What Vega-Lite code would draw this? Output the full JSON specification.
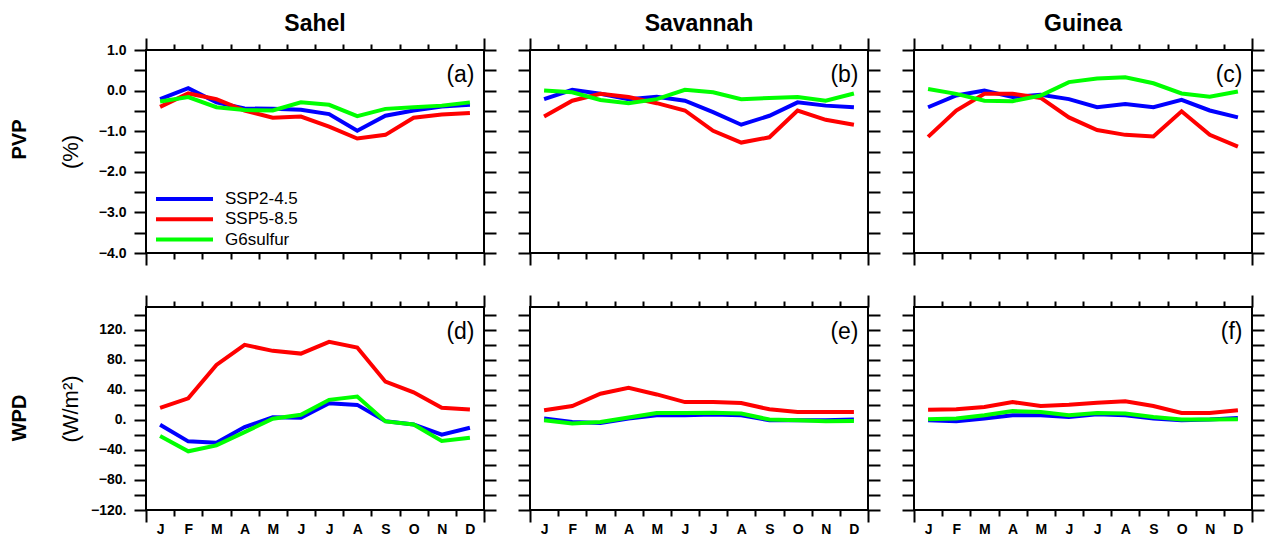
{
"$schema":"https://vega.github.io/schema/vega-lite/v6.json",
"background":"white",
"padding":{"left":10,"top":12,"right":0,"bottom":0},
"spacing":26,
"datasets":{
"a":[
{"month":1,"scenario":"SSP2-4.5","value":-0.21},{"month":2,"scenario":"SSP2-4.5","value":0.06},{"month":3,"scenario":"SSP2-4.5","value":-0.29},{"month":4,"scenario":"SSP2-4.5","value":-0.44},{"month":5,"scenario":"SSP2-4.5","value":-0.45},{"month":6,"scenario":"SSP2-4.5","value":-0.47},{"month":7,"scenario":"SSP2-4.5","value":-0.58},{"month":8,"scenario":"SSP2-4.5","value":-0.99},{"month":9,"scenario":"SSP2-4.5","value":-0.62},{"month":10,"scenario":"SSP2-4.5","value":-0.49},{"month":11,"scenario":"SSP2-4.5","value":-0.39},{"month":12,"scenario":"SSP2-4.5","value":-0.35},
{"month":1,"scenario":"SSP5-8.5","value":-0.4},{"month":2,"scenario":"SSP5-8.5","value":-0.07},{"month":3,"scenario":"SSP5-8.5","value":-0.21},{"month":4,"scenario":"SSP5-8.5","value":-0.49},{"month":5,"scenario":"SSP5-8.5","value":-0.67},{"month":6,"scenario":"SSP5-8.5","value":-0.64},{"month":7,"scenario":"SSP5-8.5","value":-0.89},{"month":8,"scenario":"SSP5-8.5","value":-1.18},{"month":9,"scenario":"SSP5-8.5","value":-1.09},{"month":10,"scenario":"SSP5-8.5","value":-0.67},{"month":11,"scenario":"SSP5-8.5","value":-0.59},{"month":12,"scenario":"SSP5-8.5","value":-0.55},
{"month":1,"scenario":"G6sulfur","value":-0.27},{"month":2,"scenario":"G6sulfur","value":-0.16},{"month":3,"scenario":"G6sulfur","value":-0.41},{"month":4,"scenario":"G6sulfur","value":-0.48},{"month":5,"scenario":"G6sulfur","value":-0.49},{"month":6,"scenario":"G6sulfur","value":-0.29},{"month":7,"scenario":"G6sulfur","value":-0.35},{"month":8,"scenario":"G6sulfur","value":-0.63},{"month":9,"scenario":"G6sulfur","value":-0.45},{"month":10,"scenario":"G6sulfur","value":-0.41},{"month":11,"scenario":"G6sulfur","value":-0.37},{"month":12,"scenario":"G6sulfur","value":-0.29}
],
"b":[
{"month":1,"scenario":"SSP2-4.5","value":-0.21},{"month":2,"scenario":"SSP2-4.5","value":0.02},{"month":3,"scenario":"SSP2-4.5","value":-0.08},{"month":4,"scenario":"SSP2-4.5","value":-0.21},{"month":5,"scenario":"SSP2-4.5","value":-0.15},{"month":6,"scenario":"SSP2-4.5","value":-0.25},{"month":7,"scenario":"SSP2-4.5","value":-0.53},{"month":8,"scenario":"SSP2-4.5","value":-0.84},{"month":9,"scenario":"SSP2-4.5","value":-0.62},{"month":10,"scenario":"SSP2-4.5","value":-0.29},{"month":11,"scenario":"SSP2-4.5","value":-0.37},{"month":12,"scenario":"SSP2-4.5","value":-0.41},
{"month":1,"scenario":"SSP5-8.5","value":-0.64},{"month":2,"scenario":"SSP5-8.5","value":-0.25},{"month":3,"scenario":"SSP5-8.5","value":-0.08},{"month":4,"scenario":"SSP5-8.5","value":-0.16},{"month":5,"scenario":"SSP5-8.5","value":-0.31},{"month":6,"scenario":"SSP5-8.5","value":-0.49},{"month":7,"scenario":"SSP5-8.5","value":-0.99},{"month":8,"scenario":"SSP5-8.5","value":-1.28},{"month":9,"scenario":"SSP5-8.5","value":-1.15},{"month":10,"scenario":"SSP5-8.5","value":-0.49},{"month":11,"scenario":"SSP5-8.5","value":-0.72},{"month":12,"scenario":"SSP5-8.5","value":-0.84},
{"month":1,"scenario":"G6sulfur","value":0.0},{"month":2,"scenario":"G6sulfur","value":-0.04},{"month":3,"scenario":"G6sulfur","value":-0.23},{"month":4,"scenario":"G6sulfur","value":-0.31},{"month":5,"scenario":"G6sulfur","value":-0.21},{"month":6,"scenario":"G6sulfur","value":0.02},{"month":7,"scenario":"G6sulfur","value":-0.04},{"month":8,"scenario":"G6sulfur","value":-0.21},{"month":9,"scenario":"G6sulfur","value":-0.18},{"month":10,"scenario":"G6sulfur","value":-0.16},{"month":11,"scenario":"G6sulfur","value":-0.25},{"month":12,"scenario":"G6sulfur","value":-0.07}
],
"c":[
{"month":1,"scenario":"SSP2-4.5","value":-0.41},{"month":2,"scenario":"SSP2-4.5","value":-0.12},{"month":3,"scenario":"SSP2-4.5","value":0.0},{"month":4,"scenario":"SSP2-4.5","value":-0.16},{"month":5,"scenario":"SSP2-4.5","value":-0.1},{"month":6,"scenario":"SSP2-4.5","value":-0.21},{"month":7,"scenario":"SSP2-4.5","value":-0.41},{"month":8,"scenario":"SSP2-4.5","value":-0.33},{"month":9,"scenario":"SSP2-4.5","value":-0.41},{"month":10,"scenario":"SSP2-4.5","value":-0.23},{"month":11,"scenario":"SSP2-4.5","value":-0.49},{"month":12,"scenario":"SSP2-4.5","value":-0.66},
{"month":1,"scenario":"SSP5-8.5","value":-1.14},{"month":2,"scenario":"SSP5-8.5","value":-0.49},{"month":3,"scenario":"SSP5-8.5","value":-0.08},{"month":4,"scenario":"SSP5-8.5","value":-0.08},{"month":5,"scenario":"SSP5-8.5","value":-0.18},{"month":6,"scenario":"SSP5-8.5","value":-0.66},{"month":7,"scenario":"SSP5-8.5","value":-0.97},{"month":8,"scenario":"SSP5-8.5","value":-1.09},{"month":9,"scenario":"SSP5-8.5","value":-1.13},{"month":10,"scenario":"SSP5-8.5","value":-0.51},{"month":11,"scenario":"SSP5-8.5","value":-1.09},{"month":12,"scenario":"SSP5-8.5","value":-1.38},
{"month":1,"scenario":"G6sulfur","value":0.04},{"month":2,"scenario":"G6sulfur","value":-0.08},{"month":3,"scenario":"G6sulfur","value":-0.25},{"month":4,"scenario":"G6sulfur","value":-0.26},{"month":5,"scenario":"G6sulfur","value":-0.12},{"month":6,"scenario":"G6sulfur","value":0.21},{"month":7,"scenario":"G6sulfur","value":0.3},{"month":8,"scenario":"G6sulfur","value":0.33},{"month":9,"scenario":"G6sulfur","value":0.18},{"month":10,"scenario":"G6sulfur","value":-0.07},{"month":11,"scenario":"G6sulfur","value":-0.15},{"month":12,"scenario":"G6sulfur","value":-0.02}
],
"d":[
{"month":1,"scenario":"SSP2-4.5","value":-6.6},{"month":2,"scenario":"SSP2-4.5","value":-28.7},{"month":3,"scenario":"SSP2-4.5","value":-30.5},{"month":4,"scenario":"SSP2-4.5","value":-9.7},{"month":5,"scenario":"SSP2-4.5","value":3.5},{"month":6,"scenario":"SSP2-4.5","value":2.6},{"month":7,"scenario":"SSP2-4.5","value":22},{"month":8,"scenario":"SSP2-4.5","value":19.8},{"month":9,"scenario":"SSP2-4.5","value":-1.8},{"month":10,"scenario":"SSP2-4.5","value":-6.2},{"month":11,"scenario":"SSP2-4.5","value":-19.8},{"month":12,"scenario":"SSP2-4.5","value":-10.6},
{"month":1,"scenario":"SSP5-8.5","value":15.9},{"month":2,"scenario":"SSP5-8.5","value":28.6},{"month":3,"scenario":"SSP5-8.5","value":73},{"month":4,"scenario":"SSP5-8.5","value":99.6},{"month":5,"scenario":"SSP5-8.5","value":91.7},{"month":6,"scenario":"SSP5-8.5","value":88},{"month":7,"scenario":"SSP5-8.5","value":103.6},{"month":8,"scenario":"SSP5-8.5","value":96},{"month":9,"scenario":"SSP5-8.5","value":50.7},{"month":10,"scenario":"SSP5-8.5","value":36.5},{"month":11,"scenario":"SSP5-8.5","value":15.9},{"month":12,"scenario":"SSP5-8.5","value":13.6},
{"month":1,"scenario":"G6sulfur","value":-21.6},{"month":2,"scenario":"G6sulfur","value":-41.9},{"month":3,"scenario":"G6sulfur","value":-34},{"month":4,"scenario":"G6sulfur","value":-16.4},{"month":5,"scenario":"G6sulfur","value":1.3},{"month":6,"scenario":"G6sulfur","value":6.6},{"month":7,"scenario":"G6sulfur","value":26.5},{"month":8,"scenario":"G6sulfur","value":30.8},{"month":9,"scenario":"G6sulfur","value":-2.2},{"month":10,"scenario":"G6sulfur","value":-6.2},{"month":11,"scenario":"G6sulfur","value":-28.3},{"month":12,"scenario":"G6sulfur","value":-23.8}
],
"e":[
{"month":1,"scenario":"SSP2-4.5","value":1.6},{"month":2,"scenario":"SSP2-4.5","value":-2.9},{"month":3,"scenario":"SSP2-4.5","value":-4.2},{"month":4,"scenario":"SSP2-4.5","value":1.6},{"month":5,"scenario":"SSP2-4.5","value":6},{"month":6,"scenario":"SSP2-4.5","value":6},{"month":7,"scenario":"SSP2-4.5","value":6.9},{"month":8,"scenario":"SSP2-4.5","value":6},{"month":9,"scenario":"SSP2-4.5","value":-0.7},{"month":10,"scenario":"SSP2-4.5","value":-0.7},{"month":11,"scenario":"SSP2-4.5","value":-0.7},{"month":12,"scenario":"SSP2-4.5","value":0.3},
{"month":1,"scenario":"SSP5-8.5","value":12.6},{"month":2,"scenario":"SSP5-8.5","value":18.3},{"month":3,"scenario":"SSP5-8.5","value":34.7},{"month":4,"scenario":"SSP5-8.5","value":42.6},{"month":5,"scenario":"SSP5-8.5","value":33.7},{"month":6,"scenario":"SSP5-8.5","value":23.5},{"month":7,"scenario":"SSP5-8.5","value":23.5},{"month":8,"scenario":"SSP5-8.5","value":22.2},{"month":9,"scenario":"SSP5-8.5","value":13.9},{"month":10,"scenario":"SSP5-8.5","value":10.3},{"month":11,"scenario":"SSP5-8.5","value":10.3},{"month":12,"scenario":"SSP5-8.5","value":10.3},
{"month":1,"scenario":"G6sulfur","value":-0.7},{"month":2,"scenario":"G6sulfur","value":-5},{"month":3,"scenario":"G6sulfur","value":-2.9},{"month":4,"scenario":"G6sulfur","value":2.9},{"month":5,"scenario":"G6sulfur","value":9},{"month":6,"scenario":"G6sulfur","value":9},{"month":7,"scenario":"G6sulfur","value":9.5},{"month":8,"scenario":"G6sulfur","value":8.2},{"month":9,"scenario":"G6sulfur","value":0.3},{"month":10,"scenario":"G6sulfur","value":-0.7},{"month":11,"scenario":"G6sulfur","value":-2},{"month":12,"scenario":"G6sulfur","value":-1.6}
],
"f":[
{"month":1,"scenario":"SSP2-4.5","value":-0.7},{"month":2,"scenario":"SSP2-4.5","value":-2},{"month":3,"scenario":"SSP2-4.5","value":1.6},{"month":4,"scenario":"SSP2-4.5","value":6},{"month":5,"scenario":"SSP2-4.5","value":6},{"month":6,"scenario":"SSP2-4.5","value":3.7},{"month":7,"scenario":"SSP2-4.5","value":7.3},{"month":8,"scenario":"SSP2-4.5","value":6},{"month":9,"scenario":"SSP2-4.5","value":1.6},{"month":10,"scenario":"SSP2-4.5","value":-0.7},{"month":11,"scenario":"SSP2-4.5","value":0.3},{"month":12,"scenario":"SSP2-4.5","value":2.5},
{"month":1,"scenario":"SSP5-8.5","value":13.5},{"month":2,"scenario":"SSP5-8.5","value":13.9},{"month":3,"scenario":"SSP5-8.5","value":17},{"month":4,"scenario":"SSP5-8.5","value":23.5},{"month":5,"scenario":"SSP5-8.5","value":18.3},{"month":6,"scenario":"SSP5-8.5","value":20},{"month":7,"scenario":"SSP5-8.5","value":22.6},{"month":8,"scenario":"SSP5-8.5","value":24.7},{"month":9,"scenario":"SSP5-8.5","value":18.3},{"month":10,"scenario":"SSP5-8.5","value":9},{"month":11,"scenario":"SSP5-8.5","value":9},{"month":12,"scenario":"SSP5-8.5","value":12.6},
{"month":1,"scenario":"G6sulfur","value":0.7},{"month":2,"scenario":"G6sulfur","value":1.6},{"month":3,"scenario":"G6sulfur","value":6},{"month":4,"scenario":"G6sulfur","value":11.6},{"month":5,"scenario":"G6sulfur","value":10.3},{"month":6,"scenario":"G6sulfur","value":6},{"month":7,"scenario":"G6sulfur","value":9},{"month":8,"scenario":"G6sulfur","value":8.2},{"month":9,"scenario":"G6sulfur","value":3.7},{"month":10,"scenario":"G6sulfur","value":0.3},{"month":11,"scenario":"G6sulfur","value":0.3},{"month":12,"scenario":"G6sulfur","value":0.7}
]
},
"vconcat":[
{"bounds":"flush","spacing":46,
 "title":{"text":"PVP","orient":"left","anchor":"middle","font":"Liberation Sans","fontSize":20,"fontWeight":"bold","color":"black","offset":28},
 "hconcat":[
 {"width":338,"height":203,"data":{"name":"a"},
  "title":{"text":"Sahel","font":"Liberation Sans","fontSize":23,"fontWeight":"bold","color":"black","offset":-17,"baseline":"alphabetic"},
  "layer":[
   {"transform":[{"filter":"datum.scenario !== 'G6sulfur'"}],"mark":{"type":"line","strokeWidth":4},
    "encoding":{
     "x":{"field":"month","type":"quantitative","scale":{"domain":[0.5,12.5],"nice":false,"zero":false},"axis":{"orient":"bottom","values":[0.5,1.5,2.5,3.5,4.5,5.5,6.5,7.5,8.5,9.5,10.5,11.5,12.5],"labels":false,"title":null,"tickSize":{"condition":{"test":"datum.value < 1 || datum.value > 12","value":12},"value":6}}},
     "y":{"field":"value","type":"quantitative","scale":{"domain":[-4,1],"nice":false,"zero":false},"axis":{"orient":"left","values":[-4,-3.5,-3,-2.5,-2,-1.5,-1,-0.5,0,0.5,1],"labelExpr":"datum.value % 1 === 0 ? format(datum.value, '.1f') : ''","tickSize":12,"labelPadding":8,"title":"(%)","titleX":-76,"titleY":101.5,"titleAngle":-90,"titleAlign":"center","titleBaseline":"middle","titleFontSize":22,"titleFontWeight":"normal"}},
     "color":{"field":"scenario","type":"nominal","scale":{"domain":["SSP2-4.5","SSP5-8.5","G6sulfur"],"range":["#0000ff","#ff0000","#00ff00"]},"legend":{"title":null}}}},
   {"transform":[{"filter":"datum.scenario === 'G6sulfur'"}],"mark":{"type":"line","strokeWidth":4},
    "encoding":{
     "x":{"field":"month","type":"quantitative","scale":{"domain":[0.5,12.5],"nice":false,"zero":false},"axis":{"orient":"top","values":[0.5,1.5,2.5,3.5,4.5,5.5,6.5,7.5,8.5,9.5,10.5,11.5,12.5],"labels":false,"tickSize":{"condition":{"test":"datum.value < 1 || datum.value > 12","value":12},"value":6},"title":"(a)","titleX":328,"titleY":24,"titleAlign":"right","titleBaseline":"middle","titleAngle":0,"titleFontSize":23,"titleFontWeight":"normal"}},
     "y":{"field":"value","type":"quantitative","scale":{"domain":[-4,1],"nice":false,"zero":false},"axis":{"orient":"right","values":[-4,-3.5,-3,-2.5,-2,-1.5,-1,-0.5,0,0.5,1],"labels":false,"tickSize":12,"title":null}},
     "color":{"field":"scenario","type":"nominal","scale":{"domain":["SSP2-4.5","SSP5-8.5","G6sulfur"],"range":["#0000ff","#ff0000","#00ff00"]},"legend":{"title":null}}}}
  ],
  "resolve":{"axis":{"x":"independent","y":"independent"}}},
 {"width":338,"height":203,"data":{"name":"b"},
  "title":{"text":"Savannah","font":"Liberation Sans","fontSize":23,"fontWeight":"bold","color":"black","offset":-17,"baseline":"alphabetic"},
  "layer":[
   {"transform":[{"filter":"datum.scenario !== 'G6sulfur'"}],"mark":{"type":"line","strokeWidth":4},
    "encoding":{
     "x":{"field":"month","type":"quantitative","scale":{"domain":[0.5,12.5],"nice":false,"zero":false},"axis":{"orient":"bottom","values":[0.5,1.5,2.5,3.5,4.5,5.5,6.5,7.5,8.5,9.5,10.5,11.5,12.5],"labels":false,"title":null,"tickSize":{"condition":{"test":"datum.value < 1 || datum.value > 12","value":12},"value":6}}},
     "y":{"field":"value","type":"quantitative","scale":{"domain":[-4,1],"nice":false,"zero":false},"axis":{"orient":"left","values":[-4,-3.5,-3,-2.5,-2,-1.5,-1,-0.5,0,0.5,1],"labels":false,"tickSize":12,"title":null}},
     "color":{"field":"scenario","type":"nominal","scale":{"domain":["SSP2-4.5","SSP5-8.5","G6sulfur"],"range":["#0000ff","#ff0000","#00ff00"]},"legend":{"title":null}}}},
   {"transform":[{"filter":"datum.scenario === 'G6sulfur'"}],"mark":{"type":"line","strokeWidth":4},
    "encoding":{
     "x":{"field":"month","type":"quantitative","scale":{"domain":[0.5,12.5],"nice":false,"zero":false},"axis":{"orient":"top","values":[0.5,1.5,2.5,3.5,4.5,5.5,6.5,7.5,8.5,9.5,10.5,11.5,12.5],"labels":false,"tickSize":{"condition":{"test":"datum.value < 1 || datum.value > 12","value":12},"value":6},"title":"(b)","titleX":328,"titleY":24,"titleAlign":"right","titleBaseline":"middle","titleAngle":0,"titleFontSize":23,"titleFontWeight":"normal"}},
     "y":{"field":"value","type":"quantitative","scale":{"domain":[-4,1],"nice":false,"zero":false},"axis":{"orient":"right","values":[-4,-3.5,-3,-2.5,-2,-1.5,-1,-0.5,0,0.5,1],"labels":false,"tickSize":12,"title":null}},
     "color":{"field":"scenario","type":"nominal","scale":{"domain":["SSP2-4.5","SSP5-8.5","G6sulfur"],"range":["#0000ff","#ff0000","#00ff00"]},"legend":{"title":null}}}}
  ],
  "resolve":{"axis":{"x":"independent","y":"independent"}}},
 {"width":338,"height":203,"data":{"name":"c"},
  "title":{"text":"Guinea","font":"Liberation Sans","fontSize":23,"fontWeight":"bold","color":"black","offset":-17,"baseline":"alphabetic"},
  "layer":[
   {"transform":[{"filter":"datum.scenario !== 'G6sulfur'"}],"mark":{"type":"line","strokeWidth":4},
    "encoding":{
     "x":{"field":"month","type":"quantitative","scale":{"domain":[0.5,12.5],"nice":false,"zero":false},"axis":{"orient":"bottom","values":[0.5,1.5,2.5,3.5,4.5,5.5,6.5,7.5,8.5,9.5,10.5,11.5,12.5],"labels":false,"title":null,"tickSize":{"condition":{"test":"datum.value < 1 || datum.value > 12","value":12},"value":6}}},
     "y":{"field":"value","type":"quantitative","scale":{"domain":[-4,1],"nice":false,"zero":false},"axis":{"orient":"left","values":[-4,-3.5,-3,-2.5,-2,-1.5,-1,-0.5,0,0.5,1],"labels":false,"tickSize":12,"title":null}},
     "color":{"field":"scenario","type":"nominal","scale":{"domain":["SSP2-4.5","SSP5-8.5","G6sulfur"],"range":["#0000ff","#ff0000","#00ff00"]},"legend":{"title":null}}}},
   {"transform":[{"filter":"datum.scenario === 'G6sulfur'"}],"mark":{"type":"line","strokeWidth":4},
    "encoding":{
     "x":{"field":"month","type":"quantitative","scale":{"domain":[0.5,12.5],"nice":false,"zero":false},"axis":{"orient":"top","values":[0.5,1.5,2.5,3.5,4.5,5.5,6.5,7.5,8.5,9.5,10.5,11.5,12.5],"labels":false,"tickSize":{"condition":{"test":"datum.value < 1 || datum.value > 12","value":12},"value":6},"title":"(c)","titleX":328,"titleY":24,"titleAlign":"right","titleBaseline":"middle","titleAngle":0,"titleFontSize":23,"titleFontWeight":"normal"}},
     "y":{"field":"value","type":"quantitative","scale":{"domain":[-4,1],"nice":false,"zero":false},"axis":{"orient":"right","values":[-4,-3.5,-3,-2.5,-2,-1.5,-1,-0.5,0,0.5,1],"labels":false,"tickSize":12,"title":null}},
     "color":{"field":"scenario","type":"nominal","scale":{"domain":["SSP2-4.5","SSP5-8.5","G6sulfur"],"range":["#0000ff","#ff0000","#00ff00"]},"legend":{"title":null}}}}
  ],
  "resolve":{"axis":{"x":"independent","y":"independent"}}}
 ]},
{"bounds":"flush","spacing":46,
 "title":{"text":"WPD","orient":"left","anchor":"middle","font":"Liberation Sans","fontSize":20,"fontWeight":"bold","color":"black","offset":28},
 "hconcat":[
 {"width":338,"height":203,"data":{"name":"d"},
  "layer":[
   {"transform":[{"filter":"datum.scenario !== 'G6sulfur'"}],"mark":{"type":"line","strokeWidth":4},
    "encoding":{
     "x":{"field":"month","type":"quantitative","scale":{"domain":[0.5,12.5],"nice":false,"zero":false},"axis":{"orient":"bottom","values":[0.5,1,1.5,2,2.5,3,3.5,4,4.5,5,5.5,6,6.5,7,7.5,8,8.5,9,9.5,10,10.5,11,11.5,12,12.5],"labelExpr":"datum.value % 1 === 0 ? ['J','F','M','A','M','J','J','A','S','O','N','D'][datum.value - 1] : ''","labelPadding":6,"title":null,"tickSize":{"condition":{"test":"datum.value < 1 || datum.value > 12","value":12},"value":6},"tickOpacity":{"condition":{"test":"datum.value % 1 === 0","value":0},"value":1}}},
     "y":{"field":"value","type":"quantitative","scale":{"domain":[-120,150],"nice":false,"zero":false},"axis":{"orient":"left","values":[-120,-100,-80,-60,-40,-20,0,20,40,60,80,100,120,140],"labelExpr":"datum.value % 40 === 0 ? format(datum.value, 'd') + '.' : ''","tickSize":12,"labelPadding":8,"title":"(W/m²)","titleX":-76,"titleY":101.5,"titleAngle":-90,"titleAlign":"center","titleBaseline":"middle","titleFontSize":22,"titleFontWeight":"normal"}},
     "color":{"field":"scenario","type":"nominal","scale":{"domain":["SSP2-4.5","SSP5-8.5","G6sulfur"],"range":["#0000ff","#ff0000","#00ff00"]},"legend":{"title":null}}}},
   {"transform":[{"filter":"datum.scenario === 'G6sulfur'"}],"mark":{"type":"line","strokeWidth":4},
    "encoding":{
     "x":{"field":"month","type":"quantitative","scale":{"domain":[0.5,12.5],"nice":false,"zero":false},"axis":{"orient":"top","values":[0.5,1.5,2.5,3.5,4.5,5.5,6.5,7.5,8.5,9.5,10.5,11.5,12.5],"labels":false,"tickSize":{"condition":{"test":"datum.value < 1 || datum.value > 12","value":12},"value":6},"title":"(d)","titleX":328,"titleY":24,"titleAlign":"right","titleBaseline":"middle","titleAngle":0,"titleFontSize":23,"titleFontWeight":"normal"}},
     "y":{"field":"value","type":"quantitative","scale":{"domain":[-120,150],"nice":false,"zero":false},"axis":{"orient":"right","values":[-120,-100,-80,-60,-40,-20,0,20,40,60,80,100,120,140],"labels":false,"tickSize":12,"title":null}},
     "color":{"field":"scenario","type":"nominal","scale":{"domain":["SSP2-4.5","SSP5-8.5","G6sulfur"],"range":["#0000ff","#ff0000","#00ff00"]},"legend":{"title":null}}}}
  ],
  "resolve":{"axis":{"x":"independent","y":"independent"}}},
 {"width":338,"height":203,"data":{"name":"e"},
  "layer":[
   {"transform":[{"filter":"datum.scenario !== 'G6sulfur'"}],"mark":{"type":"line","strokeWidth":4},
    "encoding":{
     "x":{"field":"month","type":"quantitative","scale":{"domain":[0.5,12.5],"nice":false,"zero":false},"axis":{"orient":"bottom","values":[0.5,1,1.5,2,2.5,3,3.5,4,4.5,5,5.5,6,6.5,7,7.5,8,8.5,9,9.5,10,10.5,11,11.5,12,12.5],"labelExpr":"datum.value % 1 === 0 ? ['J','F','M','A','M','J','J','A','S','O','N','D'][datum.value - 1] : ''","labelPadding":6,"title":null,"tickSize":{"condition":{"test":"datum.value < 1 || datum.value > 12","value":12},"value":6},"tickOpacity":{"condition":{"test":"datum.value % 1 === 0","value":0},"value":1}}},
     "y":{"field":"value","type":"quantitative","scale":{"domain":[-120,150],"nice":false,"zero":false},"axis":{"orient":"left","values":[-120,-100,-80,-60,-40,-20,0,20,40,60,80,100,120,140],"labels":false,"tickSize":12,"title":null}},
     "color":{"field":"scenario","type":"nominal","scale":{"domain":["SSP2-4.5","SSP5-8.5","G6sulfur"],"range":["#0000ff","#ff0000","#00ff00"]},"legend":{"title":null}}}},
   {"transform":[{"filter":"datum.scenario === 'G6sulfur'"}],"mark":{"type":"line","strokeWidth":4},
    "encoding":{
     "x":{"field":"month","type":"quantitative","scale":{"domain":[0.5,12.5],"nice":false,"zero":false},"axis":{"orient":"top","values":[0.5,1.5,2.5,3.5,4.5,5.5,6.5,7.5,8.5,9.5,10.5,11.5,12.5],"labels":false,"tickSize":{"condition":{"test":"datum.value < 1 || datum.value > 12","value":12},"value":6},"title":"(e)","titleX":328,"titleY":24,"titleAlign":"right","titleBaseline":"middle","titleAngle":0,"titleFontSize":23,"titleFontWeight":"normal"}},
     "y":{"field":"value","type":"quantitative","scale":{"domain":[-120,150],"nice":false,"zero":false},"axis":{"orient":"right","values":[-120,-100,-80,-60,-40,-20,0,20,40,60,80,100,120,140],"labels":false,"tickSize":12,"title":null}},
     "color":{"field":"scenario","type":"nominal","scale":{"domain":["SSP2-4.5","SSP5-8.5","G6sulfur"],"range":["#0000ff","#ff0000","#00ff00"]},"legend":{"title":null}}}}
  ],
  "resolve":{"axis":{"x":"independent","y":"independent"}}},
 {"width":338,"height":203,"data":{"name":"f"},
  "layer":[
   {"transform":[{"filter":"datum.scenario !== 'G6sulfur'"}],"mark":{"type":"line","strokeWidth":4},
    "encoding":{
     "x":{"field":"month","type":"quantitative","scale":{"domain":[0.5,12.5],"nice":false,"zero":false},"axis":{"orient":"bottom","values":[0.5,1,1.5,2,2.5,3,3.5,4,4.5,5,5.5,6,6.5,7,7.5,8,8.5,9,9.5,10,10.5,11,11.5,12,12.5],"labelExpr":"datum.value % 1 === 0 ? ['J','F','M','A','M','J','J','A','S','O','N','D'][datum.value - 1] : ''","labelPadding":6,"title":null,"tickSize":{"condition":{"test":"datum.value < 1 || datum.value > 12","value":12},"value":6},"tickOpacity":{"condition":{"test":"datum.value % 1 === 0","value":0},"value":1}}},
     "y":{"field":"value","type":"quantitative","scale":{"domain":[-120,150],"nice":false,"zero":false},"axis":{"orient":"left","values":[-120,-100,-80,-60,-40,-20,0,20,40,60,80,100,120,140],"labels":false,"tickSize":12,"title":null}},
     "color":{"field":"scenario","type":"nominal","scale":{"domain":["SSP2-4.5","SSP5-8.5","G6sulfur"],"range":["#0000ff","#ff0000","#00ff00"]},"legend":{"title":null}}}},
   {"transform":[{"filter":"datum.scenario === 'G6sulfur'"}],"mark":{"type":"line","strokeWidth":4},
    "encoding":{
     "x":{"field":"month","type":"quantitative","scale":{"domain":[0.5,12.5],"nice":false,"zero":false},"axis":{"orient":"top","values":[0.5,1.5,2.5,3.5,4.5,5.5,6.5,7.5,8.5,9.5,10.5,11.5,12.5],"labels":false,"tickSize":{"condition":{"test":"datum.value < 1 || datum.value > 12","value":12},"value":6},"title":"(f)","titleX":328,"titleY":24,"titleAlign":"right","titleBaseline":"middle","titleAngle":0,"titleFontSize":23,"titleFontWeight":"normal"}},
     "y":{"field":"value","type":"quantitative","scale":{"domain":[-120,150],"nice":false,"zero":false},"axis":{"orient":"right","values":[-120,-100,-80,-60,-40,-20,0,20,40,60,80,100,120,140],"labels":false,"tickSize":12,"title":null}},
     "color":{"field":"scenario","type":"nominal","scale":{"domain":["SSP2-4.5","SSP5-8.5","G6sulfur"],"range":["#0000ff","#ff0000","#00ff00"]},"legend":{"title":null}}}}
  ],
  "resolve":{"axis":{"x":"independent","y":"independent"}}}
 ]}
],
"config":{
 "view":{"stroke":"black","strokeWidth":2},
 "axis":{"domain":false,"grid":false,"tickColor":"black","tickWidth":2,"labelFont":"Liberation Sans","labelFontSize":14,"labelFontWeight":"bold","labelColor":"black","titleColor":"black","titleFont":"Liberation Sans","labelOverlap":false,"labelFlush":false},
 "legend":{"orient":"none","legendX":8,"legendY":139,"symbolType":"stroke","symbolSize":3249,"symbolStrokeWidth":4,"clipHeight":20,"rowPadding":0.3,"labelFont":"Liberation Sans","labelFontSize":17,"labelOffset":10,"labelColor":"black","padding":0}
}
}
